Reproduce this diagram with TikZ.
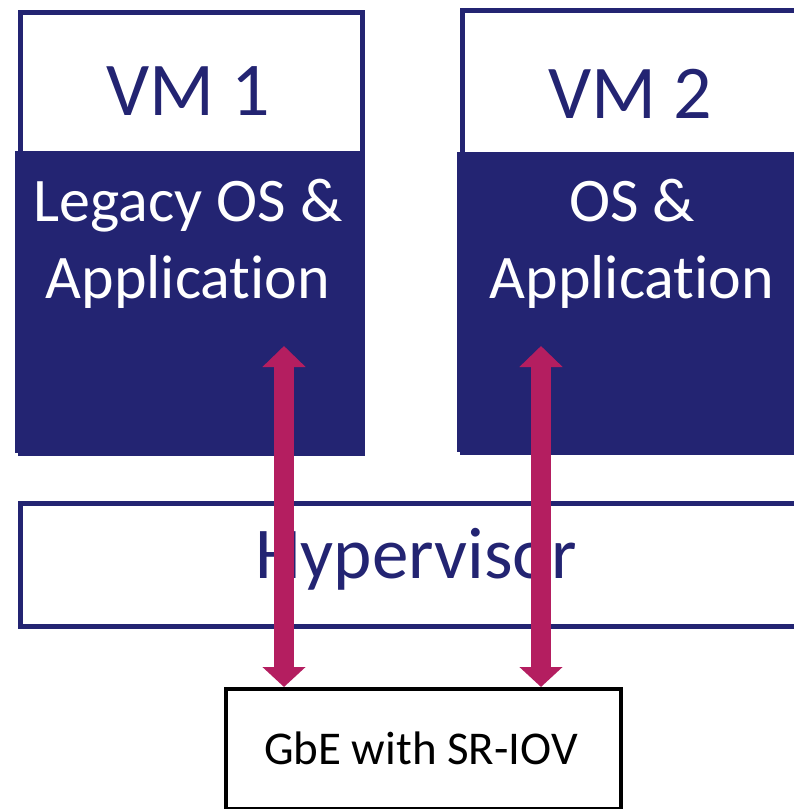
\documentclass[tikz,border=0pt]{standalone}
\usepackage{fontspec}
\setmainfont{Carlito}[RawFeature={-liga;-clig;-dlig}]
\usetikzlibrary{arrows.meta}
\definecolor{navy}{RGB}{35,36,114}
\definecolor{berry}{RGB}{180,30,96}
\tikzset{
  frame/.style={draw=navy, line width=5pt, rectangle, inner sep=0pt, anchor=north west},
  osfill/.style={fill=navy, rectangle, inner sep=0pt, anchor=north west},
  vmtitle/.style={text=navy, font=\fontsize{76}{80}\selectfont, anchor=base, inner sep=0pt},
  ostext/.style={text=white, font=\fontsize{62}{66}\selectfont, anchor=base, inner sep=0pt},
  hyptext/.style={text=navy, font=\fontsize{73}{76}\selectfont, anchor=base, inner sep=0pt},
  niclabel/.style={text=black, font=\fontsize{47}{50}\selectfont, anchor=base, inner sep=0pt},
  nicbox/.style={draw=black, line width=4pt, rectangle, inner sep=0pt, anchor=north west},
  vflink/.style={draw=berry, line width=20pt,
    {Triangle[width=42pt,length=21pt]}-{Triangle[width=42pt,length=20pt]}},
}
\begin{document}
\begin{tikzpicture}[x=1pt,y=-1pt]
\useasboundingbox (0,0) rectangle (794,809);
\clip (0,0) rectangle (794,809);

% VM 1: white title band over a navy OS area
\node[osfill, minimum width=347pt, minimum height=302pt] (vm1os) at (15,151) {};
\node[frame, minimum width=342pt, minimum height=441pt] (vm1) at (17.5,9.5) {};
\node[vmtitle] (vm1title) at (188,115) {VM 1};
\node[ostext] (vm1l1) at (188,221) {Legacy OS \&};
\node[ostext] (vm1l2) at (188,298) {Application};

% VM 2 (runs off the right edge)
\node[osfill, minimum width=360pt, minimum height=300pt] (vm2os) at (457,152) {};
\node[frame, minimum width=360pt, minimum height=442pt] (vm2) at (459.5,7.5) {};
\node[vmtitle] (vm2title) at (630,118) {VM 2};
\node[ostext] (vm2l1) at (632,221) {OS \&};
\node[ostext] (vm2l2) at (632,298) {Application};

% Hypervisor layer
\node[frame, minimum width=800pt, minimum height=123pt] (hyp) at (17.5,500.5) {};
\node[hyptext] (hyptitle) at (416,578) {Hypervisor};

% Network controller
\node[nicbox, minimum width=395pt, minimum height=120pt] (gbe) at (224,687) {};
\node[niclabel] (gbetext) at (421,764) {GbE with SR-IOV};

% Direct-assignment links from each VM to the NIC
\coordinate (up1) at (284,346);
\coordinate (up2) at (541,346);
\draw[vflink] (up1) -- (up1 |- gbe.north);
\draw[vflink] (up2) -- (up2 |- gbe.north);
\end{tikzpicture}
\end{document}
